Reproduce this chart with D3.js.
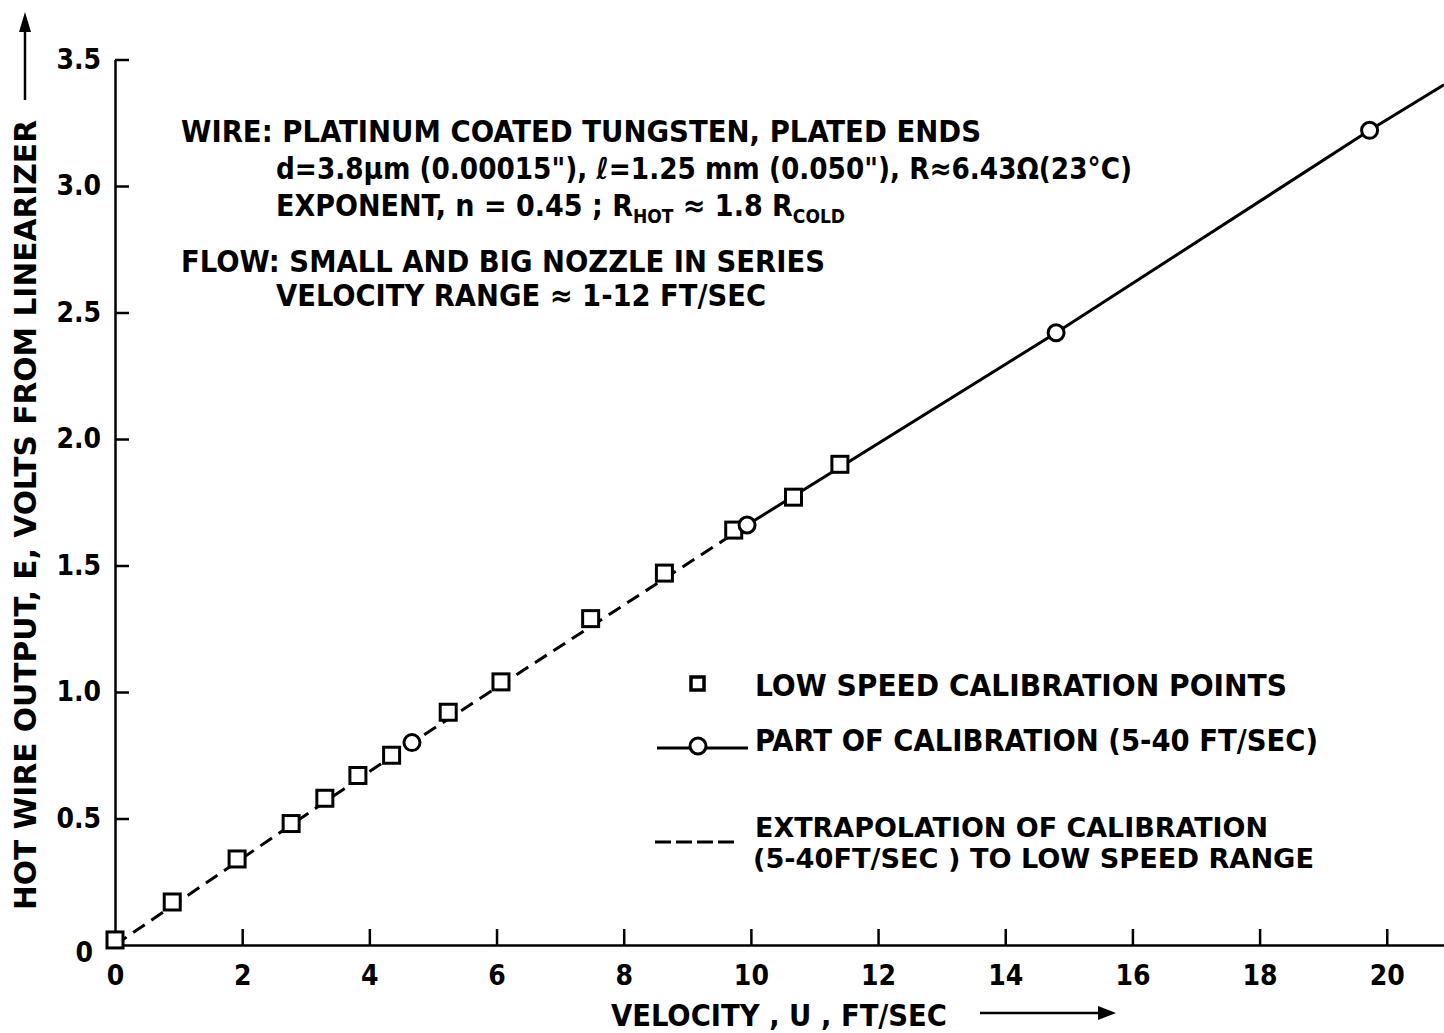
<!DOCTYPE html>
<html>
<head>
<meta charset="utf-8">
<script src="https://cdn.jsdelivr.net/npm/d3@7"></script>
<style>
  body { margin: 0; background: #fff; }
  svg text { font-family: "Liberation Sans Narrow", "DejaVu Sans Condensed", "Arial Narrow", sans-serif; font-weight: bold; fill: #000; }
</style>
</head>
<body>
<div id="chart"></div>
<script>
// low speed calibration points (squares)
const lowSpeedU = [0, 0.9, 1.92, 2.77, 3.3, 3.82, 4.35, 5.24, 6.07, 7.48, 8.64, 9.73, 10.67, 11.4]
const lowSpeedE = [0.02, 0.17, 0.34, 0.48, 0.58, 0.67, 0.75, 0.92, 1.04, 1.29, 1.47, 1.64, 1.77, 1.90]

// part of calibration 5-40 ft/sec (circles)
const calibU = [4.67, 9.94, 14.8, 19.73]
const calibE = [0.80, 1.66, 2.42, 3.22]

// calibration curve: solid part and dashed extrapolation
const curveU = [9.94, 14.8, 19.73, 20.9]
const curveE = [1.66, 2.42, 3.22, 3.40]
const extrapU = [0, 4.67, 9.94]
const extrapE = [0, 0.80, 1.66]

// axis ticks
const xTicks = [0, 2, 4, 6, 8, 10, 12, 14, 16, 18, 20]
const yTicks = [0, 0.5, 1.0, 1.5, 2.0, 2.5, 3.0, 3.5]

const width = 1444
const height = 1033

const svg = d3.select('#chart').append('svg')
    .attr('width', width)
    .attr('height', height)

const x = d3.scaleLinear().domain([0, 20.9]).range([115, 1444])
const y = d3.scaleLinear().domain([0, 3.5]).range([945, 59.5])

// axes, ticks point inward
const xAxis = svg.append('g')
    .attr('transform', `translate(0,${y(0)})`)
    .call(d3.axisBottom(x).tickValues(xTicks).tickSizeInner(-16).tickSizeOuter(0).tickPadding(20)
        .tickFormat(d => d))
const yAxis = svg.append('g')
    .attr('transform', `translate(${x(0)},0)`)
    .call(d3.axisLeft(y).tickValues(yTicks).tickSizeInner(-14).tickSizeOuter(0).tickPadding(14)
        .tickFormat(d => d === 0 ? '0' : d.toFixed(1)))

svg.selectAll('.domain').attr('stroke', '#000').attr('stroke-width', 2.5)
svg.selectAll('.tick line').attr('stroke', '#000').attr('stroke-width', 2.5)
svg.selectAll('.tick text').attr('font-size', 28).attr('fill', '#000')
    .style('font-family', '"Liberation Sans Narrow", "DejaVu Sans Condensed", sans-serif')
xAxis.selectAll('.tick text').attr('dy', '0.71em')
yAxis.selectAll('.tick').filter(d => d === 0).select('text').attr('dx', -8).attr('dy', '0.6em')
yAxis.selectAll('.tick').filter(d => d === 0).select('line').remove()
xAxis.selectAll('.tick').filter(d => d === 0).select('line').remove()

// lines
const line = d3.line().x(d => x(d[0])).y(d => y(d[1]))
svg.append('path')
    .datum(curveU.map((u, i) => [u, curveE[i]]))
    .attr('d', line)
    .attr('fill', 'none').attr('stroke', '#000').attr('stroke-width', 3)
svg.append('path')
    .datum(extrapU.map((u, i) => [u, extrapE[i]]))
    .attr('d', line)
    .attr('fill', 'none').attr('stroke', '#000').attr('stroke-width', 3)
    .attr('stroke-dasharray', '14,8')

// markers
svg.selectAll('.sq')
    .data(lowSpeedU.map((u, i) => [u, lowSpeedE[i]]))
    .enter().append('rect')
    .attr('class', 'sq')
    .attr('x', d => x(d[0]) - 8).attr('y', d => y(d[1]) - 8)
    .attr('width', 16).attr('height', 16)
    .attr('fill', '#fff').attr('stroke', '#000').attr('stroke-width', 3)
svg.selectAll('.ci')
    .data(calibU.map((u, i) => [u, calibE[i]]))
    .enter().append('circle')
    .attr('class', 'ci')
    .attr('cx', d => x(d[0])).attr('cy', d => y(d[1]))
    .attr('r', 8)
    .attr('fill', '#fff').attr('stroke', '#000').attr('stroke-width', 3)

// helper for a text line fitted to a width
function label(txt, x0, base, len, size) {
    return svg.append('text')
        .attr('x', x0).attr('y', base)
        .attr('font-size', size || 30)
        .attr('textLength', len).attr('lengthAdjust', 'spacingAndGlyphs')
        .text(txt)
}

// notes
label('WIRE: PLATINUM  COATED  TUNGSTEN, PLATED  ENDS', 181, 142, 800)
label('d=3.8\u03bcm (0.00015"), \u2113=1.25 mm (0.050"), R\u22486.43\u03a9(23\u00b0C)', 276, 179, 856)
const ex = svg.append('text').attr('x', 276).attr('y', 216).attr('font-size', 30)
ex.append('tspan').text('EXPONENT, n = 0.45 ; R')
ex.append('tspan').attr('font-size', 19).attr('dy', 7).text('HOT')
ex.append('tspan').attr('dy', -7).text(' \u2248 1.8 R')
ex.append('tspan').attr('font-size', 19).attr('dy', 7).text('COLD')
label('FLOW: SMALL  AND  BIG  NOZZLE  IN  SERIES', 181, 272, 644)
label('VELOCITY  RANGE \u2248 1-12 FT/SEC', 276, 306, 490)

// legend
svg.append('rect').attr('x', 691).attr('y', 677).attr('width', 13).attr('height', 13)
    .attr('fill', '#fff').attr('stroke', '#000').attr('stroke-width', 3.5)
label('LOW  SPEED  CALIBRATION  POINTS', 755, 696, 532)
svg.append('line').attr('x1', 657).attr('x2', 748).attr('y1', 748).attr('y2', 748)
    .attr('stroke', '#000').attr('stroke-width', 3)
svg.append('circle').attr('cx', 698).attr('cy', 746).attr('r', 8)
    .attr('fill', '#fff').attr('stroke', '#000').attr('stroke-width', 3)
label('PART  OF  CALIBRATION  (5-40 FT/SEC)', 755, 751, 563)
svg.append('line').attr('x1', 655).attr('x2', 737).attr('y1', 842).attr('y2', 842)
    .attr('stroke', '#000').attr('stroke-width', 3).attr('stroke-dasharray', '16,5')
label('EXTRAPOLATION  OF  CALIBRATION', 755, 837, 513, 26)
label('(5-40FT/SEC ) TO  LOW  SPEED  RANGE', 753, 868, 561, 26)

// axis titles with arrows
label('VELOCITY , U , FT/SEC', 611, 1026, 336)
svg.append('line').attr('x1', 980).attr('x2', 1100).attr('y1', 1013).attr('y2', 1013)
    .attr('stroke', '#000').attr('stroke-width', 2.5)
svg.append('path').attr('d', 'M1116,1013 L1098,1006 L1098,1020 Z').attr('fill', '#000')

svg.append('text')
    .attr('transform', 'translate(36,515) rotate(-90)')
    .attr('text-anchor', 'middle')
    .attr('font-size', 30)
    .attr('textLength', 790).attr('lengthAdjust', 'spacingAndGlyphs')
    .text('HOT  WIRE  OUTPUT, E, VOLTS  FROM  LINEARIZER')
svg.append('line').attr('x1', 25).attr('x2', 25).attr('y1', 100).attr('y2', 28)
    .attr('stroke', '#000').attr('stroke-width', 2.5)
svg.append('path').attr('d', 'M25,12 L19,32 L31,32 Z').attr('fill', '#000')
</script>
</body>
</html>
